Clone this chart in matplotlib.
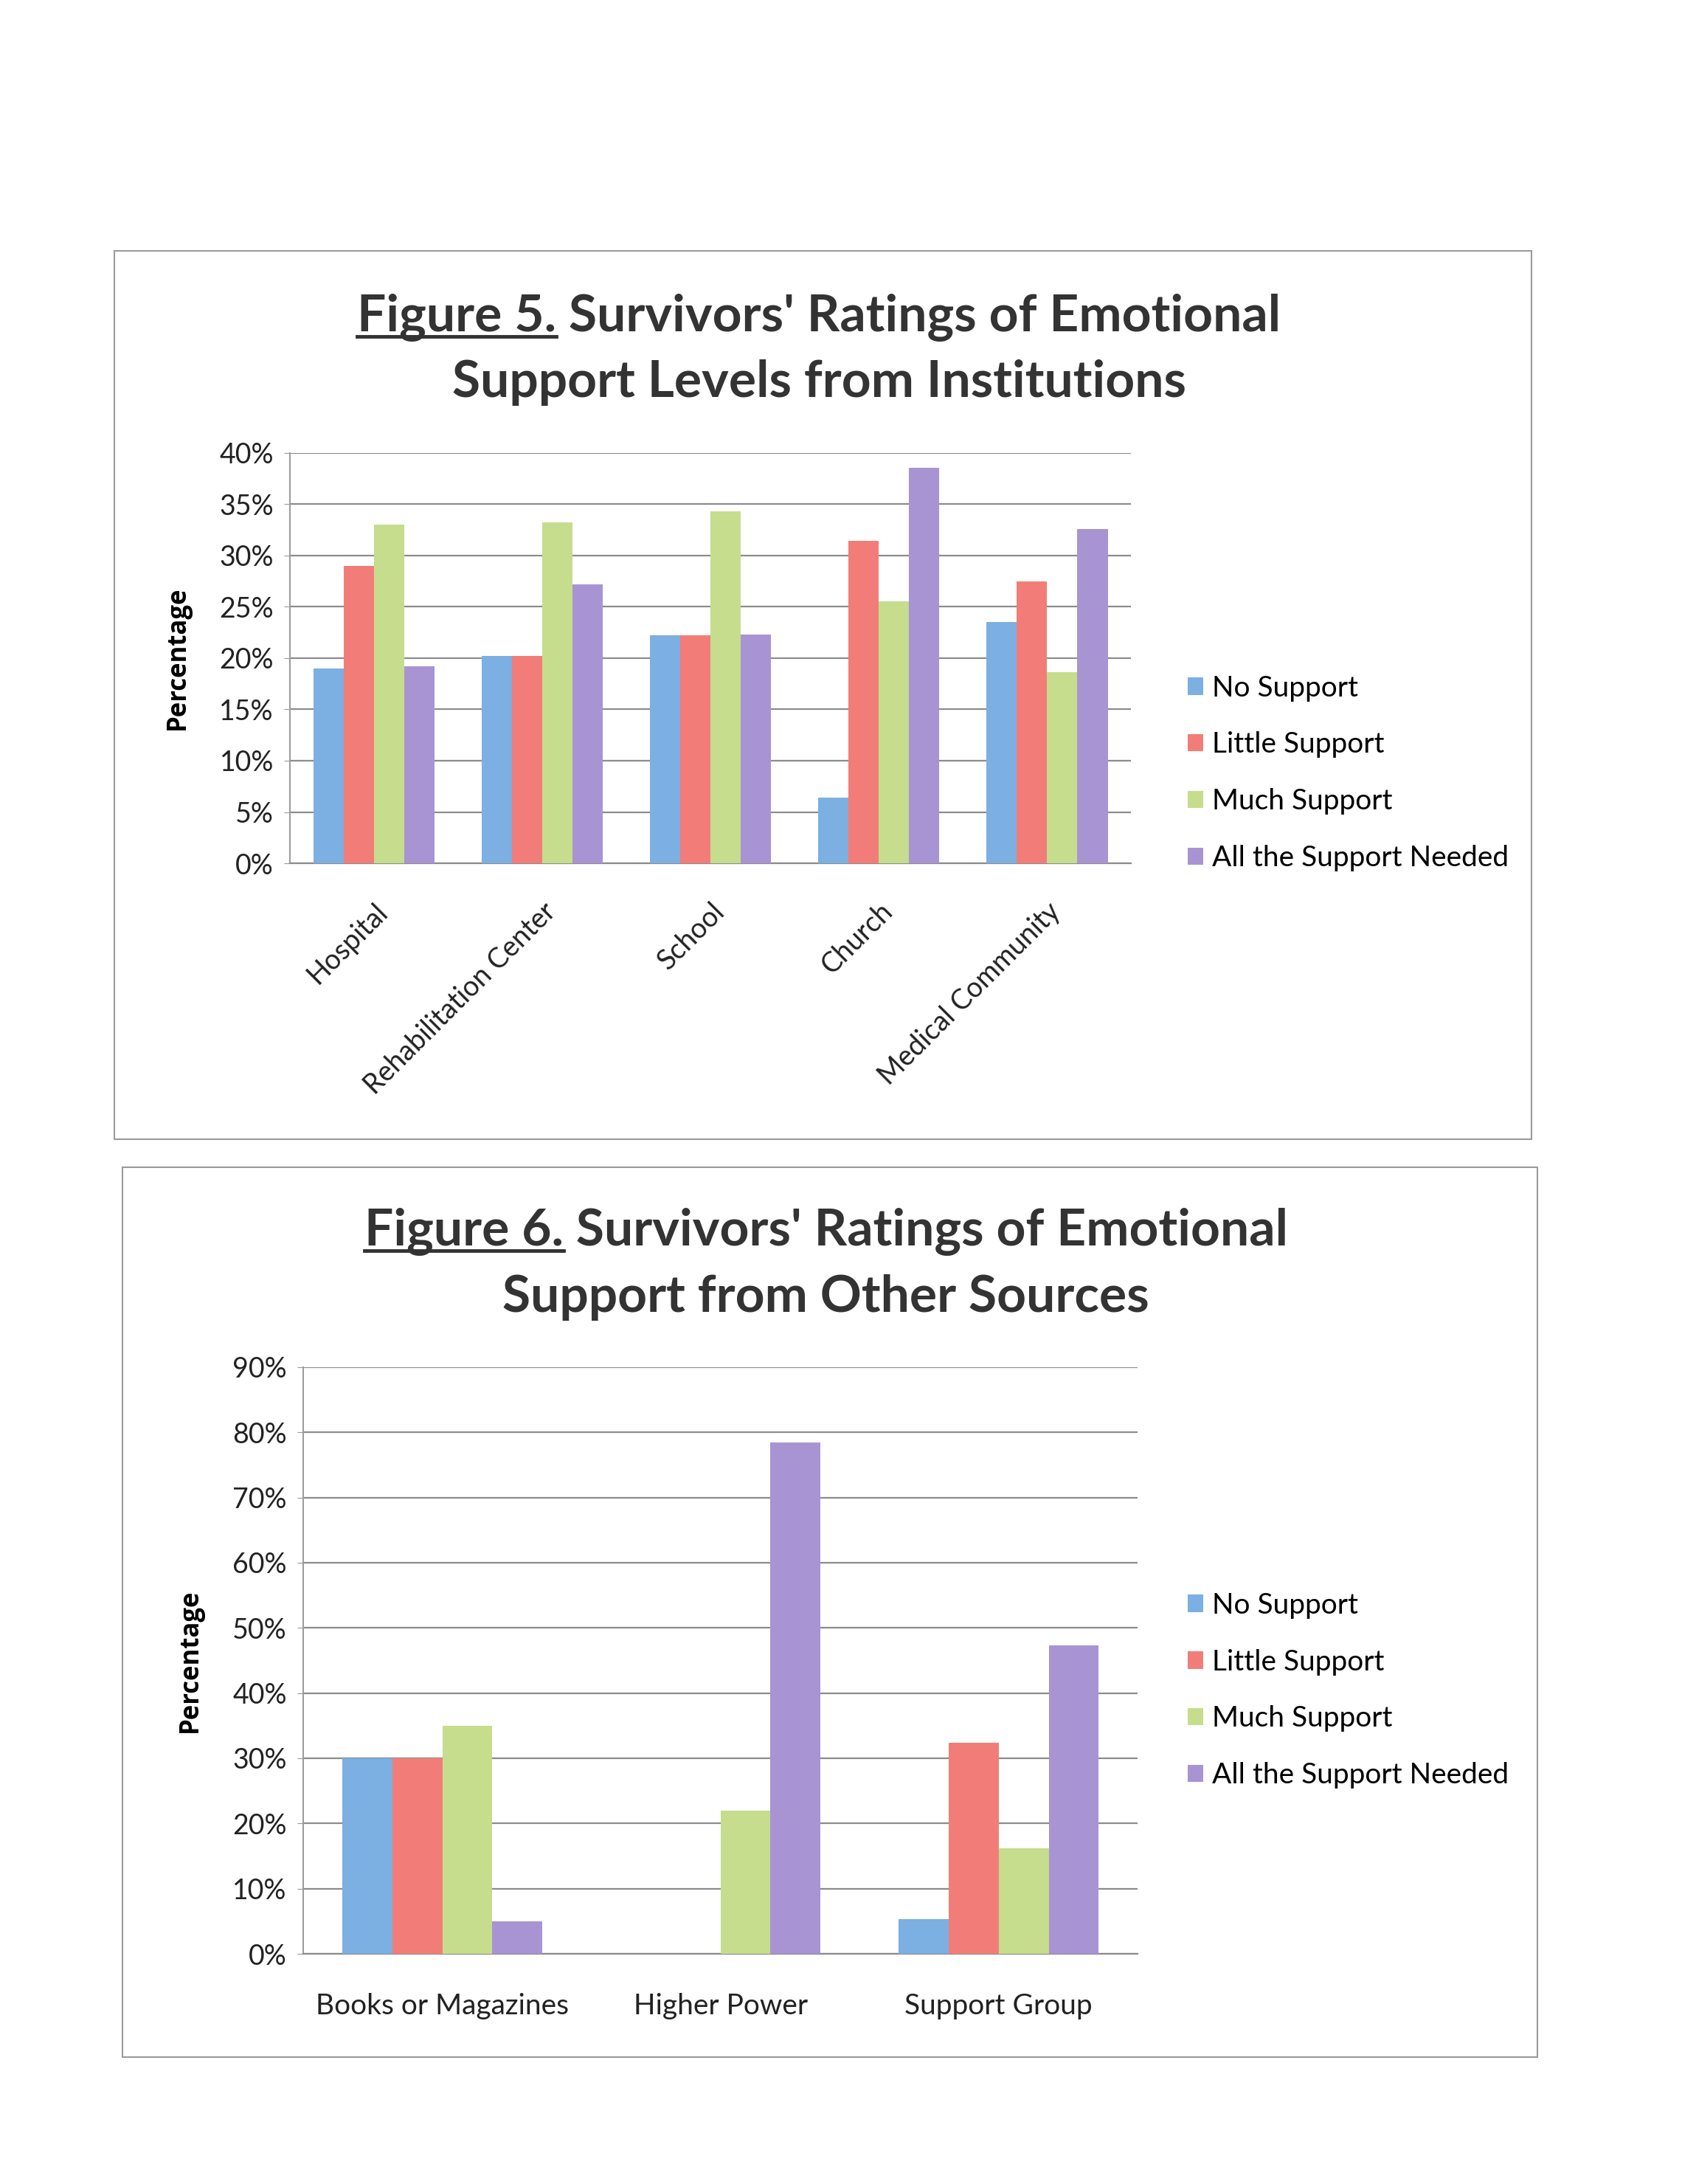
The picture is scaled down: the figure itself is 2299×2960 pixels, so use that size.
import numpy as np
import matplotlib
matplotlib.use('Agg')
import matplotlib.pyplot as plt
from matplotlib.patches import Rectangle, Patch
from matplotlib.lines import Line2D
from matplotlib.ticker import PercentFormatter

plt.rcParams['font.family'] = ['Lato', 'DejaVu Sans']

# data (percent)
series = ['No Support', 'Little Support', 'Much Support', 'All the Support Needed']
colors = ['#7cafe2', '#f27d78', '#c5dd8c', '#a894d2']

inst_labels = ['Hospital', 'Rehabilitation Center', 'School', 'Church', 'Medical Community']
inst_no = [19.0, 20.2, 22.2, 6.4, 23.5]
inst_little = [29.0, 20.2, 22.2, 31.4, 27.5]
inst_much = [33.0, 33.2, 34.3, 25.5, 18.6]
inst_all = [19.2, 27.2, 22.3, 38.5, 32.6]

other_labels = ['Books or Magazines', 'Higher Power', 'Support Group']
other_no = [30.0, 0.0, 5.3]
other_little = [30.0, 0.0, 32.4]
other_much = [35.0, 22.0, 16.2]
other_all = [5.0, 78.5, 47.3]

fig = plt.figure(figsize=(22.99, 29.60), dpi=100)

# boxes around each chart
for x0, y0, x1, y1 in [(0.0674, 0.4784, 0.903, 0.885), (0.0722, 0.0581, 0.9065, 0.4655)]:
    fig.patches.append(Rectangle((x0, y0), x1 - x0, y1 - y0, transform=fig.transFigure,
                                 fill=False, edgecolor='#9a9a9a', linewidth=1.5))


def bar_chart(rect, labels, vals, ymax, step, rot):
    ax = fig.add_axes(rect)
    x = np.arange(len(labels))
    w = 0.18
    for i, v in enumerate(vals):
        ax.bar(x + (i - 1.5) * w, v, width=w, color=colors[i], zorder=3)
    ax.set_xlim(-0.5, len(labels) - 0.5)
    ax.set_ylim(0, ymax)
    ax.set_yticks(np.arange(0, ymax + 0.1, step))
    ax.yaxis.set_major_formatter(PercentFormatter(decimals=0))
    ax.grid(axis='y', color='#8c8c8c', linewidth=1.6, zorder=0)
    for s in ['top', 'right']:
        ax.spines[s].set_visible(False)
    ax.spines['left'].set_color('#9a9a9a')
    ax.spines['bottom'].set_color('#8c8c8c')
    ax.spines['left'].set_linewidth(1.4)
    ax.spines['bottom'].set_linewidth(1.6)
    ax.tick_params(axis='y', labelsize=27, length=6, color='#9a9a9a', pad=10, labelcolor='#222222')
    ax.set_xticks(x)
    if rot:
        ax.set_xticklabels(labels, rotation=45, ha='right', rotation_mode='anchor')
        ax.tick_params(axis='x', labelsize=27, length=0, pad=34, labelcolor='#222222')
    else:
        ax.set_xticklabels(labels)
        ax.tick_params(axis='x', labelsize=28, length=0, pad=38, labelcolor='#222222')
    ax.set_ylabel('Percentage', fontsize=25, fontweight='bold', family='Open Sans', labelpad=28)
    return ax


ax1 = bar_chart([0.171, 0.6047, 0.496, 0.188], inst_labels,
                [inst_no, inst_little, inst_much, inst_all], 40, 5, True)
ax2 = bar_chart([0.1788, 0.1054, 0.492, 0.2686], other_labels,
                [other_no, other_little, other_much, other_all], 90, 10, False)

handles = [Patch(facecolor=c) for c in colors]
for yc in [0.646, 0.226]:
    fig.legend(handles, series, loc='center left', bbox_to_anchor=(0.685, yc),
               frameon=False, fontsize=28, handlelength=0.55, handleheight=0.55,
               handletextpad=0.3, labelspacing=1.05)

titles = [(0.483, 0.8483, 0.8183, "Figure 5.", " Survivors' Ratings of Emotional",
           "Support Levels from Institutions"),
          (0.487, 0.4298, 0.3993, "Figure 6.", " Survivors' Ratings of Emotional",
           "Support from Other Sources")]
fig.canvas.draw()
r = fig.canvas.get_renderer()
W, H = fig.get_size_inches() * fig.dpi
for xc, y1, y2, pre, rest, line2 in titles:
    t = fig.text(xc, y1, pre + rest, ha='center', va='baseline', fontsize=50,
                 fontweight='bold', color='#333333')
    fig.text(xc, y2, line2, ha='center', va='baseline', fontsize=50,
             fontweight='bold', color='#333333')
    bb = t.get_window_extent(r)
    tmp = fig.text(0, 0, pre, fontsize=50, fontweight='bold')
    wpre = tmp.get_window_extent(r).width
    tmp.remove()
    yl = y1 - 7 / H
    fig.lines.append(Line2D([bb.x0 / W, (bb.x0 + wpre) / W], [yl, yl],
                            transform=fig.transFigure, color='#333333', linewidth=3.5))

fig.savefig('out.png', dpi=100, facecolor='white')
